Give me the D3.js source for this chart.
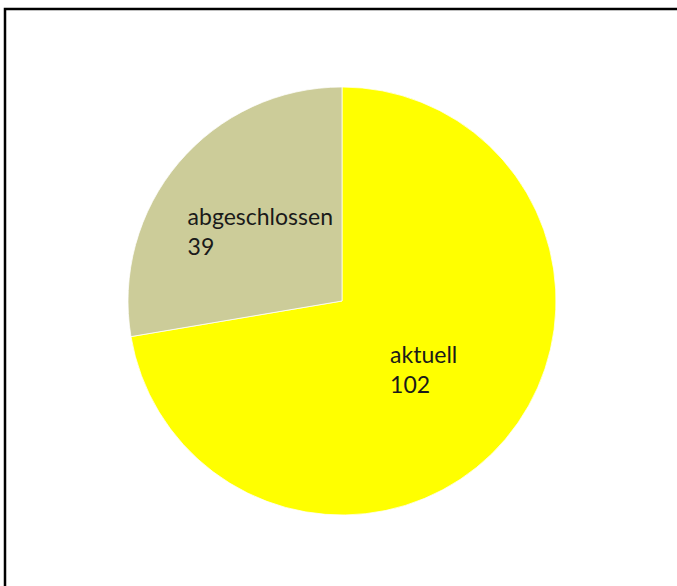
<!DOCTYPE html>
<html>
<head>
<meta charset="utf-8">
<script src="https://cdn.jsdelivr.net/npm/d3@7"></script>
<style>
  html, body { margin: 0; padding: 0; background: #fff; }
  svg { display: block; }
</style>
</head>
<body>
<svg id="chart" width="677" height="586"></svg>
<script>
// Project status counts
const categories = ["aktuell", "abgeschlossen"];
const values = [102, 39];
const colors = ["#FFFF00", "#CCCC99"];

const width = 677, height = 586;
const svg = d3.select("#chart");

// Outer frame (runs off the right and bottom edges)
svg.append("rect")
  .attr("x", 5).attr("y", 9)
  .attr("width", 700).attr("height", 600)
  .attr("fill", "none")
  .attr("stroke", "#000")
  .attr("stroke-width", 2.5);

const cx = 342, cy = 301, radius = 214;

const data = categories.map((c, i) => ({ name: c, value: values[i], color: colors[i] }));

const pie = d3.pie().value(d => d.value).sort(null);
const arc = d3.arc().innerRadius(0).outerRadius(radius);
const labelArc = d3.arc().innerRadius(radius / 2).outerRadius(radius / 2);

const g = svg.append("g").attr("transform", `translate(${cx},${cy})`);
const arcs = pie(data);

g.selectAll("path.slice")
  .data(arcs)
  .enter().append("path")
  .attr("class", "slice")
  .attr("d", arc)
  .attr("fill", d => d.data.color)
  .attr("stroke", "#fff")
  .attr("stroke-width", 0.75);

// Two-line labels: name and value, left-aligned block centred on the slice centroid
const fontSize = 23;
const lineH = 30;
arcs.forEach(d => {
  const [lx, ly] = labelArc.centroid(d);
  const t = g.append("text")
    .attr("font-family", "Lato, 'Open Sans', sans-serif")
    .attr("font-size", fontSize)
    .attr("fill", "#1a1a1a");
  const lines = [d.data.name, String(d.data.value)];
  lines.forEach((s, i) => {
    t.append("tspan").attr("x", 0).attr("dy", i === 0 ? 0 : lineH).text(s);
  });
  const w = t.node().getBBox().width;
  const y0 = ly - lineH / 2 + fontSize * 0.35;
  t.selectAll("tspan").attr("x", lx - w / 2);
  t.select("tspan").attr("y", y0);
});
</script>
</body>
</html>
